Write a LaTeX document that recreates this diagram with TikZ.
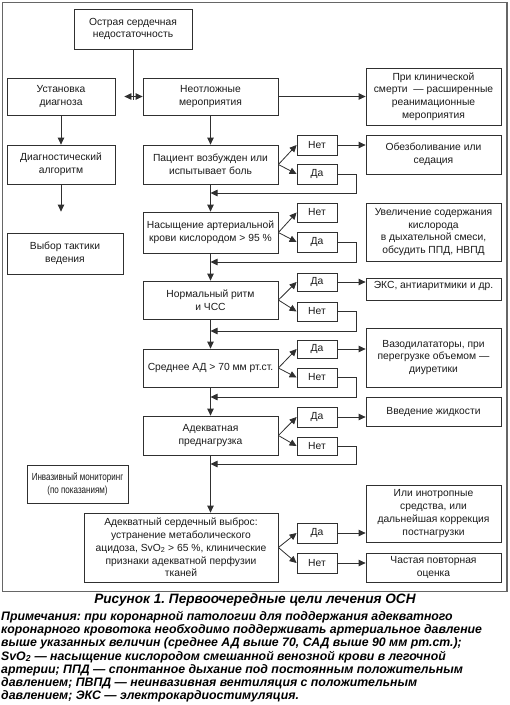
\documentclass[tikz,border=0pt]{standalone}
\usepackage{fontspec}
\setmainfont{Liberation Sans}
\usetikzlibrary{arrows.meta,calc}
\definecolor{ln}{HTML}{303030}
\definecolor{txt}{HTML}{1A1A1A}
\tikzset{
  box/.style={draw=ln, line width=0.8pt, rectangle, inner sep=1pt, align=center,
    text=txt, font=\fontsize{10.3}{12.8}\selectfont},
  arr/.style={draw=ln, line width=0.8pt, -{Triangle[length=7pt,width=6.5pt]}},
  conn/.style={draw=ln, line width=0.8pt},
  note/.style={inner sep=0pt, text=black, font=\fontsize{12.3}{13.2}\selectfont\bfseries\itshape\frenchspacing}
}
\newcommand\bx[6]{\node[box, minimum width={#4-#2}, minimum height={#5-#3}] (#1) at ({(#2+#4)/2},{(#3+#5)/2}) {#6};}
\newcommand\narrow[1]{\scalebox{0.78}[1]{#1}}
\begin{document}
\begin{tikzpicture}[x=1pt,y=-1pt]
\useasboundingbox (0,0) rectangle (510,705);
\draw[gray!80!black, line width=1.4pt] (2.5,2.5) rectangle (507,591.5);
% boxes
\bx{top}{74}{9}{192}{49}{Острая сердечная\\недостаточность}
\bx{ust}{7}{78}{115}{115}{Установка\\диагноза}
\bx{neot}{143}{78}{278}{115}{Неотложные\\мероприятия}
\bx{klin}{366}{68}{501}{125}{При клинической\\смерти \ — расширенные\\реанимационные\\мероприятия}
\bx{diag}{7}{145}{115}{184}{Диагностический\\алгоритм}
\bx{vybor}{7}{233}{123}{274}{Выбор тактики\\ведения}
\bx{pac}{143}{145}{278}{184}{Пациент возбужден или\\испытывает боль}
\bx{net1}{297}{135}{337}{155}{Нет}
\bx{da1}{297}{164}{337}{184}{Да}
\bx{obez}{366}{135}{501}{174}{Обезболивание или\\седация}
\bx{nas}{143}{212}{278}{253}{Насыщение артериальной\\крови кислородом > 95 \%}
\bx{net2}{297}{203}{337}{222}{Нет}
\bx{da2}{297}{232}{337}{252}{Да}
\bx{uvel}{366}{203}{501}{261}{Увеличение содержания\\кислорода\\в дыхательной смеси,\\обсудить ППД, НВПД}
\bx{norm}{143}{281}{278}{319}{Нормальный ритм\\и ЧСС}
\bx{da3}{297}{273}{337}{291}{Да}
\bx{net3}{297}{302}{337}{321}{Нет}
\bx{eks}{366}{278}{501}{300}{ЭКС, антиаритмики и др.\\[-4pt]\mbox{}}
\bx{sred}{143}{349}{278}{387}{Среднее АД > 70 мм рт.ст.}
\bx{da4}{297}{340}{337}{358}{Да}
\bx{net4}{297}{368}{337}{387}{Нет}
\bx{vazo}{366}{328}{501}{387}{Вазодилататоры, при\\перегрузке объемом —\\диуретики}
\bx{adpr}{143}{416}{278}{455}{Адекватная\\преднагрузка}
\bx{da5}{297}{407}{337}{427}{Да}
\bx{net5}{297}{437}{337}{455}{Нет}
\bx{vved}{366}{397}{501}{426}{Введение жидкости}
\bx{inv}{27}{465}{128}{503}{\narrow{Инвазивный мониторинг}\\\narrow{(по показаниям)}}
\bx{ades}{84}{513}{278}{582}{Адекватный сердечный выброс:\\устранение метаболического\\ацидоза, SvO\textsubscript{2} > 65 \%, клинические\\признаки адекватной перфузии\\тканей}
\bx{da6}{297}{523}{337}{543}{Да}
\bx{net6}{297}{553}{337}{573}{Нет}
\bx{ili}{366}{485}{501}{542}{Или инотропные\\средства, или\\дальнейшая коррекция\\постнагрузки}
\bx{chas}{366}{553}{501}{582}{Частая повторная\\оценка}
% junction under top box
\coordinate (jn) at (top.south |- neot.west);
\draw[conn] (top.south) -- ([yshift=-3pt]jn);
\draw[arr] (jn) -- (neot.west);
\draw[arr, shorten >=9pt] (jn) -- (ust.east);
\draw[arr] (neot.east) -- (klin.west);
% left column
\draw[arr] (ust.south) -- (diag.north);
\draw[arr, shorten >=21pt] (diag.south) -- (diag.south |- vybor.north);
% main column
\draw[arr] (neot.south) -- (pac.north);
\draw[arr] (pac.south) -- (nas.north);
\draw[arr] (nas.south) -- (norm.north);
\draw[arr] (norm.south) -- (sred.north);
\draw[arr] (sred.south) -- (adpr.north);
\draw[arr] (adpr.south) -- (adpr.south |- ades.north);
% forks
\foreach \b/\n/\d in {pac/net1/da1, nas/net2/da2, norm/da3/net3, sred/da4/net4, adpr/da5/net5, ades/da6/net6}{
  \draw[arr] (\b.east) -- (\n.west);
  \draw[arr] (\b.east) -- (\d.west);
}
% to right boxes
\draw[arr] (net1.east) -- (net1.east -| obez.west);
\draw[arr] (da3.east) -- (da3.east -| eks.west);
\draw[arr] (da4.east) -- (da4.east -| vazo.west);
\draw[arr] (da5.east) -- (da5.east -| vved.west);
\draw[arr] (da6.east) -- (da6.east -| ili.west);
\draw[arr] (net6.east) -- (net6.east -| chas.west);
% feedback loops
\coordinate (r1) at (356,193);
\coordinate (r2) at (356,262);
\coordinate (r3) at (356,331);
\coordinate (r4) at (356,397);
\coordinate (r5) at (356,464);
\draw[arr] (da1.east) -| (r1) -- (r1 -| pac.south);
\draw[arr] (da2.east) -| (r2) -- (r2 -| nas.south);
\draw[arr] (net3.east) -| (r3) -- (r3 -| norm.south);
\draw[arr] (net4.east) -| (r4) -- (r4 -| sred.south);
\draw[arr] (net5.east) -| (r5) -- (r5 -| adpr.south);
% caption and notes
\node[note, font=\fontsize{13.6}{14}\selectfont\bfseries\itshape\frenchspacing] (cap) at (255,600) {Рисунок 1. Первоочередные цели лечения ОСН};
\node[note, anchor=north west, align=left] (notes) at (1,611) {Примечания: при коронарной патологии для поддержания адекватного\\
коронарного кровотока необходимо поддерживать артериальное давление\\
выше указанных величин (среднее АД выше 70, САД выше 90 мм рт.ст.);\\
SvO\textsubscript{2} — насыщение кислородом смешанной венозной крови в легочной\\
артерии; ППД — спонтанное дыхание под постоянным положительным\\
давлением; ПВПД — неинвазивная вентиляция с положительным\\
давлением; ЭКС — электрокардиостимуляция.};
\end{tikzpicture}
\end{document}
